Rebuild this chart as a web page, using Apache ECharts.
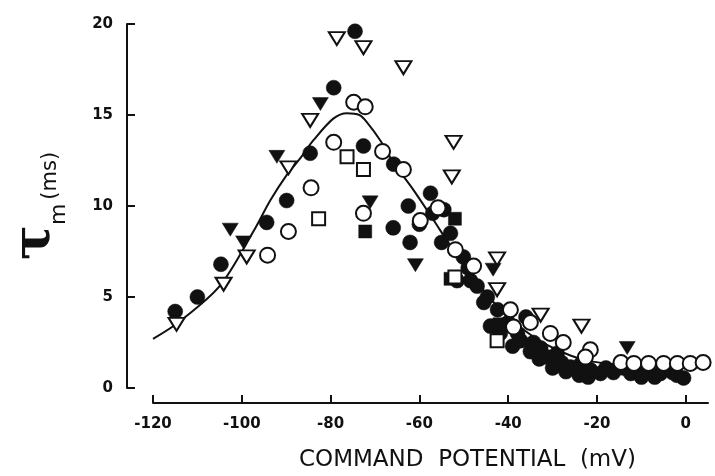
<!DOCTYPE html>
<html>
<head>
<meta charset="utf-8">
<script src="https://cdn.jsdelivr.net/npm/echarts@6/dist/echarts.min.js"></script>
<style>
  html, body { margin: 0; padding: 0; background: #fff; }
  #chart { width: 715px; height: 476px; }
</style>
</head>
<body>
<div id="chart"></div>
<script>
// Membrane time constant (ms) against command potential (mV), several cells.
const xTicks = [-120, -100, -80, -60, -40, -20, 0];
const yTicks = [0, 5, 10, 15, 20];

// [command potential (mV), tau_m (ms)]
const filledCircles = [
  [-115, 4.2], [-110, 5.0], [-104.7, 6.8], [-94.4, 9.1], [-89.9, 10.3],
  [-84.6, 12.9], [-79.3, 16.5], [-74.5, 19.6], [-72.6, 13.3], [-65.8, 12.3],
  [-57.5, 10.7], [-65.9, 8.8], [-62.1, 8.0], [-62.5, 10.0], [-57.0, 9.6],
  [-60.0, 9.0], [-55.0, 8.0], [-54.5, 9.8], [-53.0, 8.5], [-50.1, 7.2],
  [-49.0, 6.6], [-51.5, 5.9], [-48.5, 5.9], [-47.0, 5.6], [-45.5, 4.7],
  [-44.7, 5.0], [-44.0, 3.4], [-42.4, 4.3], [-41.8, 3.0], [-40.0, 3.6],
  [-39.0, 2.3], [-37.9, 3.0], [-37.2, 2.6], [-36.0, 3.9], [-35.0, 2.0],
  [-34.3, 2.5], [-33.0, 1.6], [-32.7, 2.2], [-31.2, 1.7], [-30.0, 1.1],
  [-29.0, 1.9], [-28.0, 1.4], [-27.0, 0.9], [-26.0, 1.15], [-24.0, 0.7],
  [-23.7, 1.3], [-22.0, 0.6], [-21.5, 1.0], [-19.2, 0.8], [-18.0, 1.1],
  [-16.3, 0.85], [-14.0, 1.1], [-12.4, 0.8], [-10.0, 0.6], [-9.1, 0.85],
  [-7.0, 0.6], [-5.7, 0.8], [-3.0, 0.85], [-2.0, 0.7], [-0.5, 0.55]
];
const openCircles = [
  [-94.2, 7.3], [-89.5, 8.6], [-84.4, 11.0], [-79.3, 13.5], [-74.8, 15.7],
  [-72.2, 15.45], [-68.3, 13.0], [-63.6, 12.0], [-72.6, 9.6], [-55.8, 9.9],
  [-59.8, 9.2], [-51.9, 7.6], [-47.8, 6.7], [-39.5, 4.3], [-38.8, 3.35],
  [-35.0, 3.6], [-30.5, 3.0], [-27.6, 2.5], [-21.5, 2.1], [-22.6, 1.7],
  [-14.6, 1.4], [-11.7, 1.35], [-8.4, 1.35], [-5.0, 1.35], [-1.9, 1.35],
  [1.0, 1.35], [3.9, 1.4]
];
const openTriangles = [
  [-114.7, 3.5], [-104.1, 5.7], [-98.9, 7.2], [-89.5, 12.1], [-84.6, 14.7],
  [-78.6, 19.2], [-72.6, 18.7], [-63.6, 17.6], [-52.3, 13.5], [-52.7, 11.6],
  [-42.5, 7.1], [-42.5, 5.4], [-32.7, 4.0], [-23.5, 3.4]
];
const filledTriangles = [
  [-102.6, 8.7], [-99.6, 8.0], [-92.1, 12.7], [-82.3, 15.6], [-71.1, 10.2],
  [-60.9, 6.75], [-43.4, 6.5], [-13.2, 2.2]
];
const openSquares = [
  [-82.7, 9.3], [-76.3, 12.7], [-72.6, 12.0], [-52.0, 6.1], [-42.5, 2.6]
];
const filledSquares = [
  [-72.2, 8.6], [-52.0, 9.3], [-53.0, 6.0], [-42.0, 3.5]
];
// Fitted curve, read as points along its path
const fitCurve = [
  [-120, 2.7], [-114.3, 3.6], [-105, 5.6], [-97.4, 8.6], [-93.6, 10.3],
  [-89.9, 11.7], [-86.9, 12.6], [-83.9, 13.6], [-79.4, 14.8], [-76.3, 15.1],
  [-73.5, 15.0], [-71.8, 14.6], [-68.8, 13.6], [-65.9, 12.4], [-61.4, 10.9],
  [-57, 9.3], [-53, 7.8], [-49, 6.4], [-45, 5.2], [-41, 4.1], [-37, 3.3],
  [-33, 2.6], [-29, 2.1], [-25, 1.7], [-21, 1.45], [-16, 1.3]
];

const INK = '#111';
const downTri = 'path://M0,0L20,0L10,17Z';

function scatter(name, data, symbol, size, filled, z) {
  return {
    name: name,
    type: 'scatter',
    data: data,
    symbol: symbol,
    symbolSize: size,
    z: z,
    itemStyle: {
      color: filled ? INK : '#fff',
      borderColor: INK,
      borderWidth: filled ? 0.5 : 2,
      opacity: 1
    }
  };
}

const labelFont = {
  fontFamily: 'DejaVu Sans, Liberation Sans, sans-serif',
  fontWeight: 'bold',
  fontSize: 15,
  color: INK
};

const chart = echarts.init(document.getElementById('chart'), null, { renderer: 'canvas' });
chart.setOption({
  animation: false,
  backgroundColor: '#fff',
  grid: { left: 153, right: 7, top: 24, bottom: 88, outerBoundsMode: 'none', containLabel: false },
  xAxis: {
    type: 'value',
    min: -120,
    max: 5,
    offset: 15,
    splitLine: { show: false },
    axisLine: { onZero: false, lineStyle: { color: INK, width: 2 } },
    axisTick: { inside: true, length: 8, customValues: xTicks, lineStyle: { color: INK, width: 2 } },
    axisLabel: Object.assign({ customValues: xTicks, margin: 14 }, labelFont),
    name: 'COMMAND  POTENTIAL  (mV)',
    nameLocation: 'middle',
    nameGap: 46,
    nameTextStyle: {
      fontFamily: 'DejaVu Sans, sans-serif',
      fontSize: 23,
      color: INK,
      padding: [0, 0, 0, 74]
    }
  },
  yAxis: {
    type: 'value',
    min: 0,
    max: 20,
    interval: 5,
    offset: 26,
    splitLine: { show: false },
    axisLine: { show: true, onZero: false, lineStyle: { color: INK, width: 2 } },
    axisTick: { show: true, inside: true, length: 8, customValues: yTicks, lineStyle: { color: INK, width: 2 } },
    axisLabel: Object.assign({ margin: 14 }, labelFont),
    name: '{tau|τ}{sub|m}{unit|(ms)}',
    nameLocation: 'middle',
    nameRotate: 90,
    nameGap: 57,
    nameTextStyle: {
      color: INK,
      rich: {
        tau: { fontFamily: 'DejaVu Serif, serif', fontWeight: 'bold', fontSize: 52, color: INK, verticalAlign: 'bottom', padding: [0, 0, 9, 0] },
        sub: { fontFamily: 'DejaVu Sans, sans-serif', fontSize: 22, color: INK, verticalAlign: 'bottom' },
        unit: { fontFamily: 'DejaVu Sans, sans-serif', fontSize: 21, color: INK, verticalAlign: 'bottom', padding: [0, 0, 9, 4] }
      }
    }
  },
  series: [
    {
      name: 'fit',
      type: 'line',
      data: fitCurve,
      smooth: 0.3,
      showSymbol: false,
      silent: true,
      z: 1,
      lineStyle: { color: INK, width: 2 }
    },
    scatter('filled circle', filledCircles, 'circle', 15, true, 2),
    scatter('filled triangle', filledTriangles, downTri, [16, 13], true, 3),
    scatter('filled square', filledSquares, 'rect', 13, true, 3),
    scatter('open circle', openCircles, 'circle', 15, false, 4),
    scatter('open triangle', openTriangles, downTri, [16, 13], false, 4),
    scatter('open square', openSquares, 'rect', 13, false, 4)
  ]
});
</script>
</body>
</html>
